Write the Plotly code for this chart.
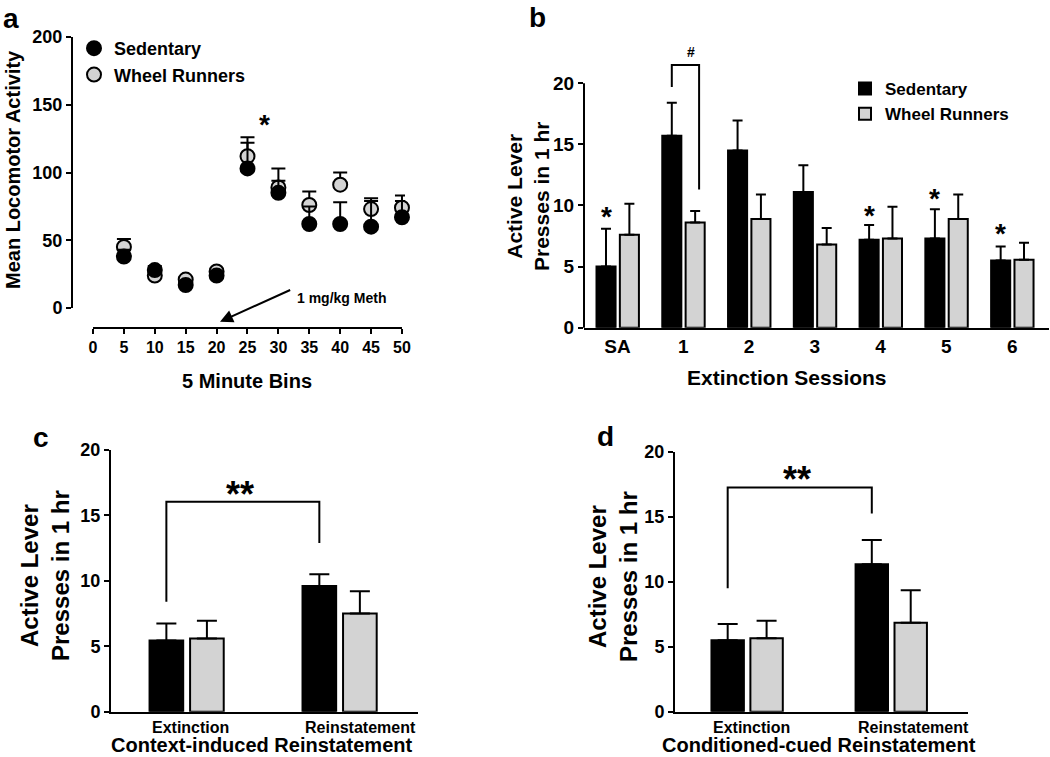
import plotly.graph_objects as go

W, H = 1050, 757
FONT = "Liberation Sans, Arial, sans-serif"
GRAY = "#d3d3d3"

# ---------------- data ----------------
# Panel a: locomotor activity
bins = [5, 10, 15, 20, 25, 30, 35, 40, 45, 50]
a_sed = [38, 28, 17, 24, 103, 85, 62, 62, 60, 67]
a_sed_err = [5, 3, 2, 3, 19, 9, 13, 16, 19, 12]
a_wheel = [45, 24, 21, 27, 112, 89, 76, 91, 73, 74]
a_wheel_err = [6, 3, 2, 2, 14, 14, 10, 9, 8, 9]
a_xticks = [0, 5, 10, 15, 20, 25, 30, 35, 40, 45, 50]
a_yticks = [0, 50, 100, 150, 200]

# Panel b: extinction sessions
sessions = ["SA", "1", "2", "3", "4", "5", "6"]
b_sed = [5.0, 15.7, 14.5, 11.1, 7.2, 7.3, 5.5]
b_sed_err = [3.1, 2.7, 2.45, 2.2, 1.2, 2.4, 1.15]
b_wheel = [7.6, 8.6, 8.9, 6.8, 7.3, 8.9, 5.55]
b_wheel_err = [2.55, 0.95, 2.0, 1.35, 2.6, 2.0, 1.4]
b_star_sessions = ["SA", "4", "5", "6"]
b_star_y = [9.4, 9.5, 10.9, 8.0]
bar_yticks = [0, 5, 10, 15, 20]

# Panel c: context-induced reinstatement
phases = ["Extinction", "Reinstatement"]
c_sed = [5.45, 9.6]
c_sed_err = [1.3, 0.9]
c_wheel = [5.6, 7.5]
c_wheel_err = [1.35, 1.7]

# Panel d: conditioned-cued reinstatement
d_sed = [5.5, 11.35]
d_sed_err = [1.25, 1.85]
d_wheel = [5.65, 6.85]
d_wheel_err = [1.35, 2.5]

# ---------------- layout geometry ----------------
def px(x):
    return x / W

def py(y):
    return 1 - y / H

dom = {
    "xa": [px(72), px(405)], "ya": [py(328), py(37)],
    "xb": [px(584), px(1049)], "yb": [py(327.7), py(62.5)],
    "xc": [px(111), px(418)], "yc": [py(711.7), py(450)],
    "xd": [px(675), px(968)], "yd": [py(711.7), py(451.7)],
}
rng = {
    "xa": [-3.4, 50.49], "ya": [-14.76, 200],
    "xb": [-0.51, 6.56], "yb": [0, 21.7],
    "xc": [-0.497, 1.51], "yc": [0, 20],
    "xd": [-0.503, 1.53], "yd": [0, 20],
}

def to_paper(v, key):
    r, d = rng[key], dom[key]
    return d[0] + (v - r[0]) / (r[1] - r[0]) * (d[1] - d[0])

# bar geometry (category units): offset, width, gray offset
BAR = {"b": (-0.32, 0.29, 0.035), "c": (-0.245, 0.22, 0.02), "d": (-0.25, 0.225, 0.02)}

fig = go.Figure()

def err(arr, width):
    return dict(type="data", array=arr, arrayminus=[0] * len(arr), symmetric=False,
                color="black", thickness=2, width=width)

# panel a traces
fig.add_trace(go.Scatter(x=bins, y=a_wheel, mode="markers", name="Wheel Runners",
                         marker=dict(size=14, color=GRAY, line=dict(color="black", width=2)),
                         error_y=err(a_wheel_err, 7), xaxis="x", yaxis="y", legend="legend",
                         legendrank=2, cliponaxis=False))
fig.add_trace(go.Scatter(x=bins, y=a_sed, mode="markers", name="Sedentary",
                         marker=dict(size=14, color="black", line=dict(color="black", width=2)),
                         error_y=err(a_sed_err, 7), xaxis="x", yaxis="y", legend="legend",
                         legendrank=1, cliponaxis=False))

def bars(cats, sed, sed_err, wheel, wheel_err, key, xa, ya, cap, show):
    off, wid, goff = BAR[key]
    fig.add_trace(go.Bar(x=cats, y=sed, offset=off, width=wid, name="Sedentary",
                         marker=dict(color="black", line=dict(color="black", width=2)),
                         error_y=err(sed_err, cap), xaxis=xa, yaxis=ya,
                         legend="legend2", showlegend=show))
    fig.add_trace(go.Bar(x=cats, y=wheel, offset=goff, width=wid, name="Wheel Runners",
                         marker=dict(color=GRAY, line=dict(color="black", width=2)),
                         error_y=err(wheel_err, cap), xaxis=xa, yaxis=ya,
                         legend="legend2", showlegend=show))

bars(sessions, b_sed, b_sed_err, b_wheel, b_wheel_err, "b", "x2", "y2", 5, True)
bars(phases, c_sed, c_sed_err, c_wheel, c_wheel_err, "c", "x3", "y3", 10, False)
bars(phases, d_sed, d_sed_err, d_wheel, d_wheel_err, "d", "x4", "y4", 10, False)

# ---------------- axes ----------------
def tfont(size):
    return dict(family=FONT, size=size, color="black", weight="bold")

common_y = dict(ticks="outside", ticklen=5, tickwidth=2, tickcolor="black",
                showgrid=False, zeroline=False, fixedrange=True, automargin=False)

fig.update_layout(
    xaxis=dict(domain=dom["xa"], range=rng["xa"], tickvals=a_xticks, ticks="outside",
               ticklen=5, tickwidth=2, tickcolor="black", showline=False, showgrid=False,
               zeroline=False, tickfont=tfont(16), anchor="y", automargin=False),
    yaxis=dict(domain=dom["ya"], range=rng["ya"], tickvals=a_yticks, showline=False,
               tickfont=tfont(18), anchor="x", **common_y),
    xaxis2=dict(domain=dom["xb"], range=rng["xb"], type="category", showline=True,
                linewidth=2, linecolor="black", ticks="", showgrid=False, zeroline=False,
                tickfont=tfont(19), anchor="y2", automargin=False),
    yaxis2=dict(domain=dom["yb"], range=rng["yb"], tickvals=bar_yticks, showline=False,
                tickfont=tfont(19), anchor="x2", **common_y),
    xaxis3=dict(domain=dom["xc"], range=rng["xc"], type="category", showline=True,
                linewidth=2, linecolor="black", ticks="", showticklabels=False,
                showgrid=False, zeroline=False, anchor="y3", automargin=False),
    yaxis3=dict(domain=dom["yc"], range=rng["yc"], tickvals=bar_yticks, showline=True,
                linewidth=2, linecolor="black", tickfont=tfont(18), anchor="x3", **common_y),
    xaxis4=dict(domain=dom["xd"], range=rng["xd"], type="category", showline=True,
                linewidth=2, linecolor="black", ticks="", showticklabels=False,
                showgrid=False, zeroline=False, anchor="y4", automargin=False),
    yaxis4=dict(domain=dom["yd"], range=rng["yd"], tickvals=bar_yticks, showline=True,
                linewidth=2, linecolor="black", tickfont=tfont(18), anchor="x4", **common_y),
)

# ---------------- shapes ----------------
shapes = []
line = dict(color="black", width=2)
# panel a axis lines (only over the data span)
shapes.append(dict(type="line", xref="paper", yref="paper",
                   x0=dom["xa"][0], x1=dom["xa"][0],
                   y0=to_paper(a_yticks[0], "ya"), y1=to_paper(a_yticks[-1], "ya"), line=line))
shapes.append(dict(type="line", xref="paper", yref="paper",
                   x0=to_paper(a_xticks[0], "xa"), x1=to_paper(a_xticks[-1], "xa"),
                   y0=dom["ya"][0], y1=dom["ya"][0], line=line))
# panel b y axis line 0..20
shapes.append(dict(type="line", xref="paper", yref="paper",
                   x0=dom["xb"][0], x1=dom["xb"][0],
                   y0=to_paper(bar_yticks[0], "yb"), y1=to_paper(bar_yticks[-1], "yb"), line=line))

def bracket(xref, yref, xl, yl, xr, yr, ytop):
    path = f"M {xl},{yl} L {xl},{ytop} L {xr},{ytop} L {xr},{yr}"
    shapes.append(dict(type="path", xref=xref, yref=yref, path=path, line=line))

bc = BAR["b"][0] + BAR["b"][1] / 2
cc = BAR["c"][0] + BAR["c"][1] / 2
dc = BAR["d"][0] + BAR["d"][1] / 2
bracket("x2", "y2", 1 + bc, 19.7, 1.24, 11.3, 21.5)
bracket("x3", "y3", 0 + cc, 8.4, 1 + cc, 12.9, 16.05)
bracket("x4", "y4", 0 + dc, 9.5, 1 + dc, 15.25, 17.25)
fig.update_layout(shapes=shapes)

# ---------------- annotations ----------------
ann = []

def text(x, y, s, size, xref="paper", yref="paper", xanchor="center", yanchor="middle",
         textangle=0, yshift=0):
    ann.append(dict(x=x, y=y, xref=xref, yref=yref, text=s, showarrow=False,
                    font=dict(family=FONT, size=size, color="black", weight="bold"),
                    xanchor=xanchor, yanchor=yanchor, textangle=textangle, yshift=yshift))

# panel letters
text(px(11), py(1), "a", 28, yanchor="top")
text(px(537), py(0), "b", 28, yanchor="top")
text(px(41), py(437), "c", 28)
text(px(605), py(436), "d", 28)

# axis titles
text(px(13), py(170), "Mean Locomotor Activity", 20, textangle=-90)
text(px(247), py(381), "5 Minute Bins", 20)
text(px(528), py(197), "Active Lever<br>Presses in 1 hr", 21, textangle=-90)
text(px(787), py(378), "Extinction Sessions", 21)
text(px(45), py(576), "Active Lever<br>Presses in 1 hr", 24, textangle=-90)
text(px(261), py(745), "Context-induced Reinstatement", 20)
text(px(613), py(577), "Active Lever<br>Presses in 1 hr", 24, textangle=-90)
text(px(819), py(745), "Conditioned-cued Reinstatement", 20)

# category labels for c and d, left-aligned at group start
for i, p in enumerate(phases):
    text(i + BAR["c"][0], py(727), p, 16, xref="x3", xanchor="left")
    text(i + BAR["d"][0], py(727), p, 16, xref="x4", xanchor="left")

# significance markers
text(27.8, 137, "*", 28, xref="x", yref="y", yshift=-2)
for s, y in zip(b_star_sessions, b_star_y):
    text(sessions.index(s) + bc, y, "*", 28, xref="x2", yref="y2", yshift=-4)
text(to_paper(1.11, "xb"), py(52), "#", 14)
text(0.346, 17.1, "**", 36, xref="x3", yref="y3", yshift=-7)
text(0.342, 18.2, "**", 36, xref="x4", yref="y4", yshift=-4)

# meth injection arrow
ann.append(dict(x=20.55, y=-10.1, ax=32.15, ay=13.8, xref="x", yref="y", axref="x", ayref="y",
                text="", showarrow=True, arrowhead=2, arrowsize=1.3, arrowwidth=2,
                arrowcolor="black", standoff=0))
text(32.7, 7.4, "1 mg/kg Meth", 14, xref="x", yref="y", xanchor="left")

fig.update_layout(annotations=ann)

fig.update_layout(
    width=W, height=H, margin=dict(l=0, r=0, t=0, b=0, pad=0, autoexpand=False),
    paper_bgcolor="white", plot_bgcolor="white",
    barmode="overlay", showlegend=True,
    font=dict(family=FONT, color="black"),
    legend=dict(x=px(74), y=py(30), xanchor="left", yanchor="top",
                font=dict(family=FONT, size=18, color="black", weight="bold"),
                bgcolor="rgba(0,0,0,0)", tracegroupgap=0, traceorder="normal"),
    legend2=dict(x=px(845), y=py(71), xanchor="left", yanchor="top",
                 font=dict(family=FONT, size=17, color="black", weight="bold"),
                 bgcolor="rgba(0,0,0,0)", tracegroupgap=0, traceorder="normal"),
)

fig.write_html(
    "out.html",
    config={"displayModeBar": False},
    post_script=("document.documentElement.style.margin='0';"
                 "document.documentElement.style.overflow='hidden';"
                 "document.body.style.margin='0';"
                 "document.body.style.padding='0';"
                 "document.body.style.overflow='hidden';"),
)
